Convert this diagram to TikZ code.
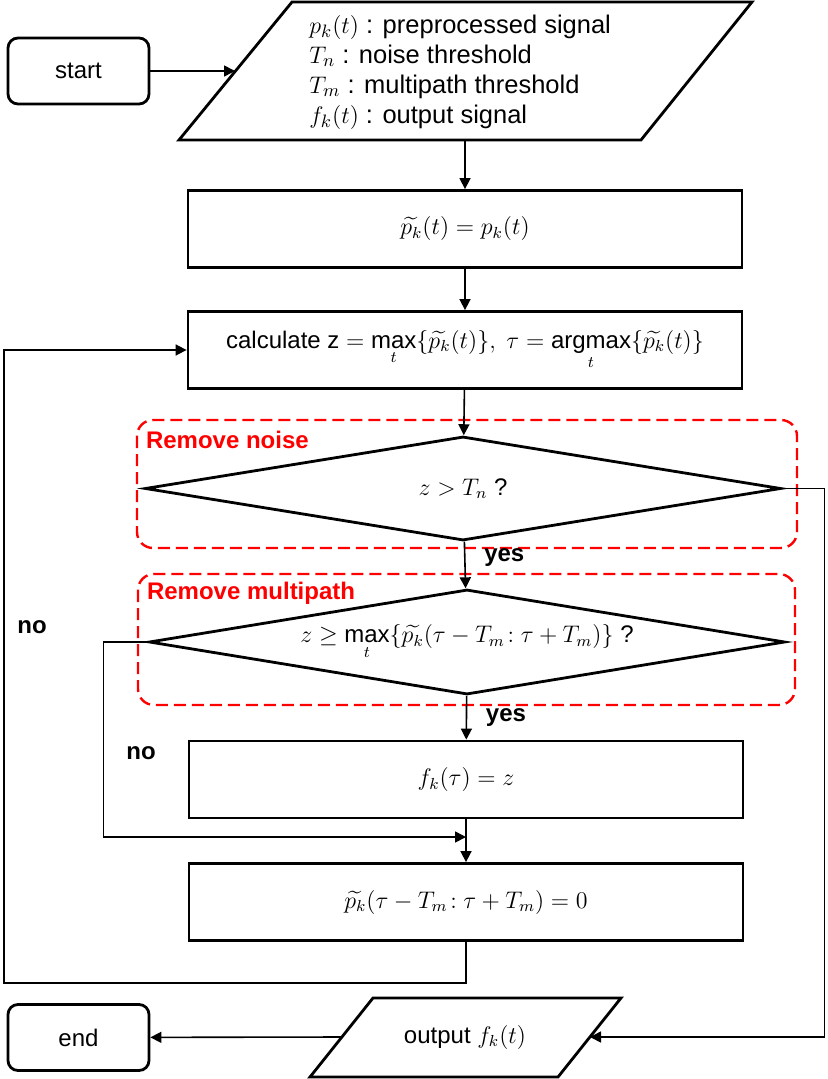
\documentclass[tikz,border=0pt]{standalone}
\usepackage{amsmath}
\usepackage{fontspec}
\setmainfont{Liberation Sans}
\usetikzlibrary{shapes.geometric,arrows.meta}

\begin{document}
\begin{tikzpicture}[x=0.5pt,y=-0.5pt,
        font=\fontsize{12}{15}\selectfont,
        >={Triangle[length=5.5pt,width=5.5pt]},
        terminal/.style={draw,line width=1.4pt,rounded corners=5pt,minimum width=70.5pt,minimum height=33pt},
        process/.style={draw,line width=1.4pt,minimum width=277pt,minimum height=38.5pt},
        decision/.style={draw,diamond,aspect=6,line width=1.4pt,inner sep=0pt,minimum width=318pt,minimum height=52pt},
        flow/.style={->,line width=0.8pt},
        group/.style={draw=red,dash pattern=on 6pt off 3pt,line width=1.2pt,rounded corners=8pt},
        grouptitle/.style={text=red,font=\fontsize{12}{15}\selectfont\bfseries,anchor=west},
        answer/.style={font=\fontsize{12}{15}\selectfont\bfseries}]
    \useasboundingbox (0,0) rectangle (827,1079);

    % start and inputs
    \node[terminal] (start) at (78.5,71) {start};
    \draw [line width=1.4pt] (292,2) -- (752,2) -- (641,140) -- (179,140) -- cycle;
    \node[anchor=west,align=left,inner sep=0pt,font=\fontsize{12.75}{15}\selectfont] (inputs) at (309,72)
        {$p_k(t)$ : preprocessed signal\\ $T_n$ : noise threshold\\ $T_m$ : multipath threshold\\ $f_k(t)$ : output signal};
    \coordinate (inL) at (235,71);
    \coordinate (inB) at (465,140);

    % main column
    \node[process] (init) at (465,229) {$\widetilde{p_k}(t) = p_k(t)$};
    \node[process] (calc) at (465,350)
        {calculate $\mathrm{z} = \max\limits_t\{\widetilde{p_k}(t)\},\ \tau = \mathop{\mathrm{argmax}}\limits_t\{\widetilde{p_k}(t)\}$};

    % dashed groups
    \draw [group] (137,420) rectangle (797,548);
    \node[grouptitle] (noisetitle) at (139,440) {Remove noise};
    \draw [group] (138,574) rectangle (795,705);
    \node[grouptitle] (multititle) at (140,593) {Remove multipath};

    \node[decision] (noise) at (463,488.5) {$z > T_n$ ?};
    \node[decision,minimum height=52.5pt] (multi) at (467,642)
        {$z \geq \max\limits_t\{\widetilde{p_k}(\tau - T_m\!: \tau + T_m)\}$ ?};

    \node[process] (assign) at (466,779.5) {$f_k(\tau) = z$};
    \node[process] (clear) at (466,902) {$\widetilde{p_k}(\tau - T_m\!: \tau + T_m) = 0$};

    % end and output
    \node[terminal] (end) at (78.5,1037.5) {end};
    \draw [line width=1.4pt] (373,998) -- (621,998) -- (558,1077) -- (310,1077) -- cycle;
    \node (output) at (465,1037) {output $f_k(t)$};
    \coordinate (outR) at (590,1037);
    \coordinate (outL) at (342,1037);

    % labels
    \node[answer] (noleft) at (32,627) {no};
    \node[answer] (noright) at (141,753) {no};

    % connectors
    \draw [flow] (start) -- (inL);
    \draw [flow] (inB) -- (init);
    \draw [flow] (init) -- (calc);
    \draw [flow] (calc) -- (noise);
    \draw [flow] (noise) -- node[answer,right,pos=0.35,xshift=6pt] {yes} (multi);
    \draw [flow] (multi) -- node[answer,right,pos=0.5,xshift=6pt] {yes} (assign);
    \draw [flow] (assign) -- (clear);
    \coordinate (join) at (466,837);
    \draw [flow] (multi.west) -- ++(-44,0) |- (join);
    \coordinate (loopL) at (4,983);
    \draw [flow] (clear.south) |- (loopL) |- (calc.west);
    \draw [flow] (noise.east) -- ++(42,0) |- (outR);
    \draw [flow] (outL) -- (end);
\end{tikzpicture}
\end{document}
